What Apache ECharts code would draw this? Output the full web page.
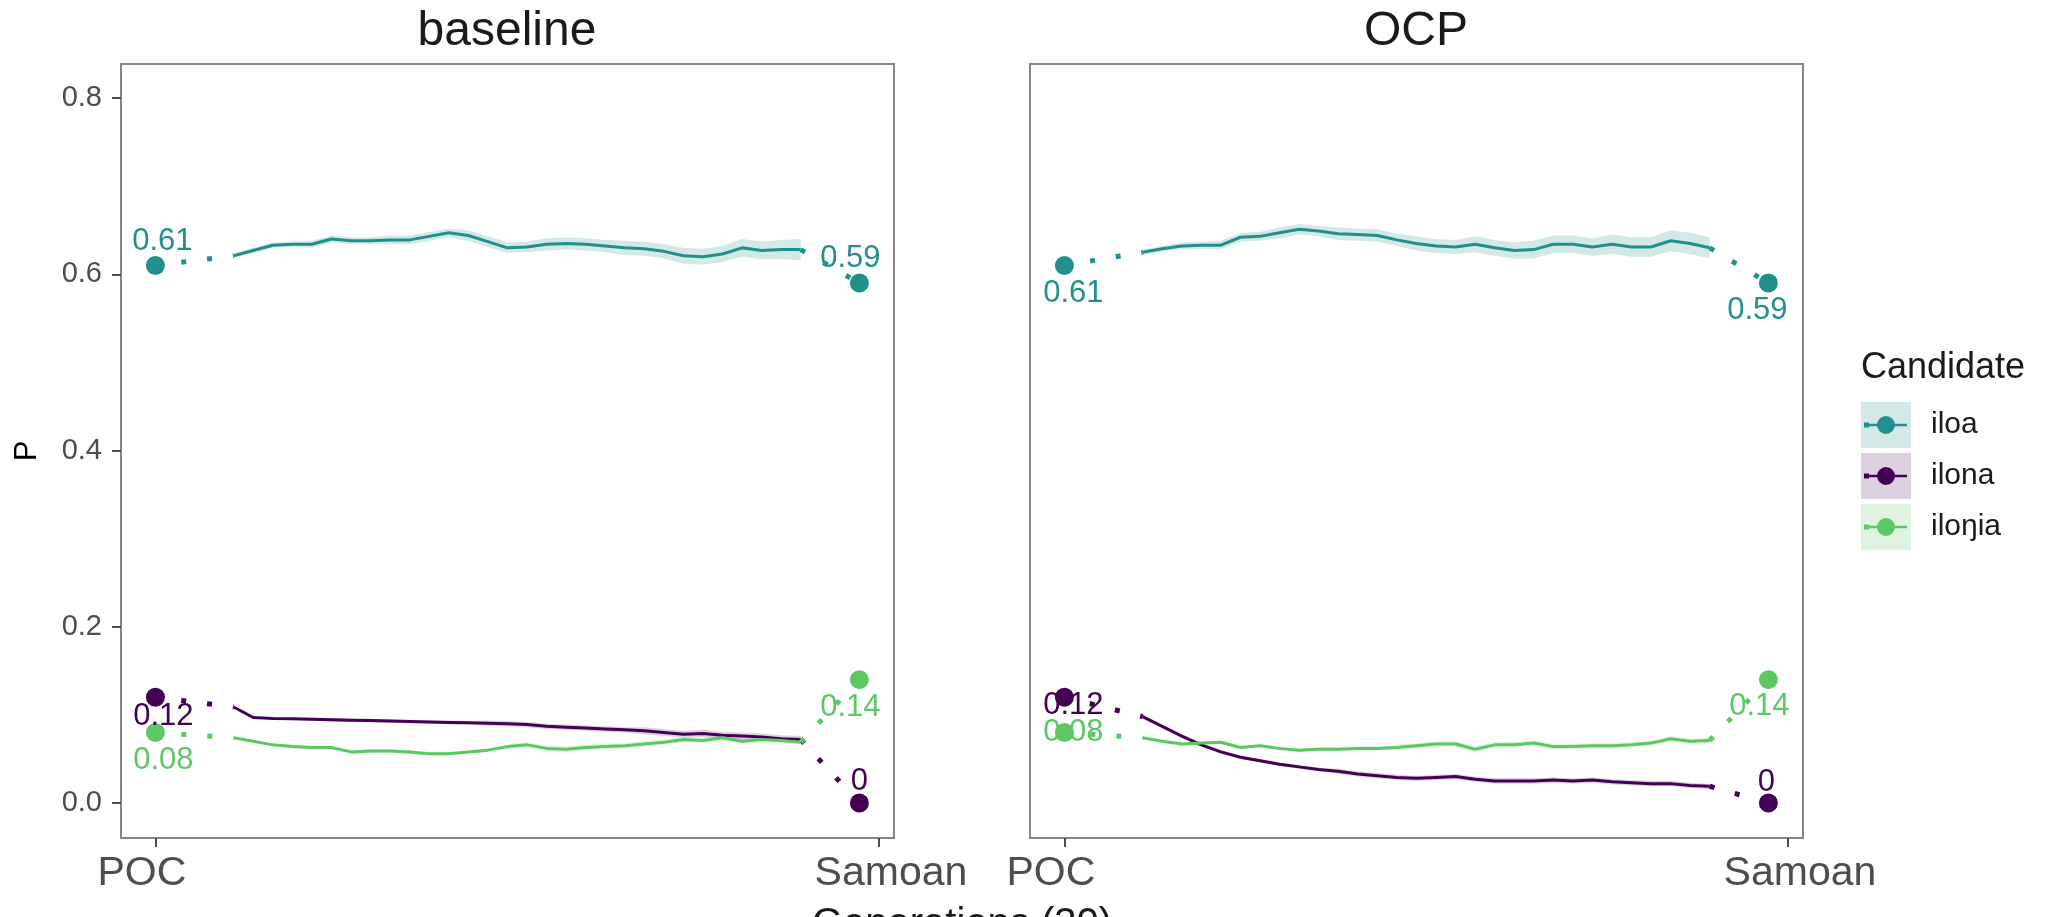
<!DOCTYPE html>
<html>
<head>
<meta charset="utf-8">
<script src="https://cdn.jsdelivr.net/npm/echarts@6/dist/echarts.min.js"></script>
<style>
  html, body { margin: 0; padding: 0; background: #fff; }
  #chart { width: 2046px; height: 917px; }
</style>
</head>
<body>
<div id="chart"></div>
<script>
// categories and values
const candidates = ['iloa', 'ilona', 'iloŋia'];
const panels = ['baseline', 'OCP'];
const xLabels = ['POC', 'Samoan'];
const yTicks = [0, 0.2, 0.4, 0.6, 0.8];
const generations = [1, 2, 3, 4, 5, 6, 7, 8, 9, 10, 11, 12, 13, 14, 15, 16, 17, 18, 19, 20, 21, 22, 23, 24, 25, 26, 27, 28, 29, 30];

// observed endpoints (same in both panels)
const pocP = [0.61, 0.12, 0.08];
const samoanP = [0.59, 0, 0.14];

// simulated mean P per generation
const baselineIloa = [0.621, 0.627, 0.633, 0.634, 0.634, 0.640, 0.638, 0.638, 0.639, 0.639, 0.643, 0.647, 0.644, 0.637, 0.630, 0.631, 0.634, 0.635, 0.634, 0.632, 0.630, 0.629, 0.626, 0.621, 0.620, 0.623, 0.630, 0.627, 0.628, 0.628];
const baselineIlona = [0.109, 0.097, 0.096, 0.0955, 0.095, 0.0945, 0.094, 0.0935, 0.093, 0.0925, 0.092, 0.0915, 0.091, 0.0905, 0.090, 0.089, 0.087, 0.086, 0.085, 0.084, 0.083, 0.082, 0.080, 0.078, 0.079, 0.077, 0.076, 0.075, 0.073, 0.072];
const baselineIlonia = [0.074, 0.070, 0.066, 0.064, 0.063, 0.063, 0.058, 0.059, 0.059, 0.058, 0.056, 0.056, 0.058, 0.060, 0.064, 0.066, 0.062, 0.061, 0.063, 0.064, 0.065, 0.067, 0.069, 0.072, 0.071, 0.074, 0.070, 0.072, 0.071, 0.069];
const ocpIloa = [0.625, 0.629, 0.632, 0.633, 0.633, 0.642, 0.643, 0.647, 0.651, 0.649, 0.646, 0.645, 0.644, 0.639, 0.635, 0.632, 0.631, 0.634, 0.630, 0.627, 0.628, 0.634, 0.634, 0.631, 0.634, 0.631, 0.631, 0.638, 0.635, 0.630];
const ocpIlona = [0.098, 0.087, 0.076, 0.066, 0.058, 0.052, 0.048, 0.044, 0.041, 0.038, 0.036, 0.033, 0.031, 0.029, 0.028, 0.029, 0.030, 0.027, 0.025, 0.025, 0.025, 0.026, 0.025, 0.026, 0.024, 0.023, 0.022, 0.022, 0.020, 0.019];
const ocpIlonia = [0.074, 0.070, 0.067, 0.068, 0.069, 0.063, 0.065, 0.062, 0.060, 0.061, 0.061, 0.062, 0.062, 0.063, 0.065, 0.067, 0.067, 0.061, 0.066, 0.066, 0.068, 0.064, 0.064, 0.065, 0.065, 0.066, 0.068, 0.073, 0.070, 0.071];

// ribbon half-widths
const baselineIloaSe = [0.002, 0.003, 0.003, 0.003, 0.004, 0.004, 0.004, 0.004, 0.005, 0.005, 0.005, 0.005, 0.006, 0.006, 0.006, 0.006, 0.007, 0.007, 0.007, 0.007, 0.008, 0.008, 0.008, 0.009, 0.009, 0.009, 0.010, 0.010, 0.011, 0.012];
const baselineIlonaSe = [0.001, 0.001, 0.001, 0.001, 0.002, 0.002, 0.002, 0.002, 0.002, 0.002, 0.002, 0.002, 0.002, 0.003, 0.003, 0.003, 0.003, 0.003, 0.003, 0.003, 0.003, 0.004, 0.004, 0.004, 0.004, 0.004, 0.004, 0.004, 0.004, 0.004];
const baselineIloniaSe = [0.001, 0.001, 0.001, 0.002, 0.002, 0.002, 0.002, 0.002, 0.002, 0.002, 0.002, 0.002, 0.002, 0.002, 0.002, 0.003, 0.003, 0.003, 0.003, 0.003, 0.003, 0.003, 0.003, 0.003, 0.003, 0.003, 0.003, 0.003, 0.003, 0.003];
const ocpIloaSe = [0.003, 0.003, 0.004, 0.004, 0.005, 0.005, 0.005, 0.006, 0.006, 0.006, 0.007, 0.007, 0.007, 0.007, 0.008, 0.008, 0.008, 0.009, 0.009, 0.009, 0.010, 0.010, 0.010, 0.010, 0.011, 0.011, 0.011, 0.012, 0.012, 0.012];
const ocpIlonaSe = [0.002, 0.002, 0.002, 0.002, 0.002, 0.002, 0.002, 0.002, 0.002, 0.002, 0.003, 0.003, 0.003, 0.003, 0.003, 0.003, 0.003, 0.003, 0.003, 0.003, 0.003, 0.003, 0.003, 0.003, 0.003, 0.003, 0.003, 0.003, 0.003, 0.003];
const ocpIloniaSe = [0.001, 0.002, 0.002, 0.002, 0.002, 0.002, 0.002, 0.002, 0.002, 0.002, 0.002, 0.002, 0.002, 0.003, 0.003, 0.003, 0.003, 0.003, 0.003, 0.003, 0.003, 0.003, 0.003, 0.003, 0.003, 0.003, 0.003, 0.003, 0.003, 0.003];

// x positions on the numeric axis
const POC_X = 0;
const GEN_SHIFT = 3;      // generation g drawn at g + 3
const SAMOAN_X = 36;      // observed Samoan point
const SAMOAN_TICK = 37;   // Samoan axis label

const colors = ['#21908C', '#440154', '#5DC863'];
const ribbonColors = ['rgba(33,144,140,0.2)', 'rgba(68,1,84,0.18)', 'rgba(93,200,99,0.2)'];
const FONT = '"Liberation Sans", Arial, Helvetica, sans-serif';

// where the repelled text labels sit relative to their points [POC, Samoan]
const labelOffsets = [
    [[[7, -24], [-9, -25]], [[8, 19], [0, -22]], [[8, 28], [-9, 28]]],
    [[[9, 28], [-11, 27]], [[9, 8], [-2, -21]], [[9, 0], [-9, 27]]]
];

const glyph = 'path://M0 6.5h5v5h-5z M5 7.8h9v2.4h-9z M30 7.8h13v2.4h-13z M31 9a9 9 0 1 1 -18 0a9 9 0 1 1 18 0z';

function ribbonSeries(p, vals, se, color) {
    return {
        type: 'custom', xAxisIndex: p, yAxisIndex: p, silent: true, z: 1,
        data: [[generations[0] + GEN_SHIFT, vals[0]]],
        renderItem: (params, api) => {
            const upper = generations.map((g, i) => api.coord([g + GEN_SHIFT, vals[i] + se[i]]));
            const lower = generations.map((g, i) => api.coord([g + GEN_SHIFT, vals[i] - se[i]])).reverse();
            return { type: 'polygon', shape: { points: upper.concat(lower) }, style: { fill: color } };
        }
    };
}

function panelSeries(p, lines, ses) {
    const out = [];
    // ribbons first so lines sit on top
    candidates.forEach((name, c) => out.push(ribbonSeries(p, lines[c], ses[c], ribbonColors[c])));

    candidates.forEach((name, c) => {
        const vals = lines[c];
        out.push({
            name: name, type: 'line', xAxisIndex: p, yAxisIndex: p,
            color: colors[c], symbol: 'none', z: 3,
            lineStyle: { width: 3, color: colors[c] },
            data: generations.map((g, i) => [g + GEN_SHIFT, vals[i]])
        });
        // dotted links from the observed points to the simulation
        out.push({
            type: 'line', xAxisIndex: p, yAxisIndex: p, symbol: 'none', z: 3,
            lineStyle: { width: 5, color: colors[c], type: [5, 21], cap: 'butt' },
            data: [[POC_X, pocP[c]], [generations[0] + GEN_SHIFT, vals[0]]]
        });
        out.push({
            type: 'line', xAxisIndex: p, yAxisIndex: p, symbol: 'none', z: 3,
            lineStyle: { width: 5, color: colors[c], type: [5, 21], cap: 'butt' },
            data: [[generations[generations.length - 1] + GEN_SHIFT, vals[vals.length - 1]], [SAMOAN_X, samoanP[c]]]
        });
        out.push({
            type: 'scatter', xAxisIndex: p, yAxisIndex: p, z: 4,
            symbolSize: 19, itemStyle: { color: colors[c], opacity: 1 },
            label: {
                show: true, position: 'inside', color: colors[c],
                fontSize: 31, fontFamily: FONT,
                formatter: (prm) => String(prm.value[1])
            },
            data: [
                { value: [POC_X, pocP[c]], label: { offset: labelOffsets[p][c][0] } },
                { value: [SAMOAN_X, samoanP[c]], label: { offset: labelOffsets[p][c][1] } }
            ]
        });
    });
    return out;
}

const grids = [
    { left: 121, top: 64, width: 773, height: 774 },
    { left: 1030, top: 64, width: 773, height: 774 }
];

function xAxisFor(p) {
    return {
        type: 'value', gridIndex: p, min: -1.76, max: 37.77,
        axisLine: { show: false, onZero: false },
        splitLine: { show: false },
        axisTick: { customValues: [POC_X, SAMOAN_TICK], length: 9, lineStyle: { color: '#4d4d4d', width: 2 } },
        axisLabel: {
            customValues: [POC_X, SAMOAN_TICK], margin: 15,
            formatter: (v) => v === POC_X ? '{a|' + xLabels[0] + '}' : '{b|' + xLabels[1] + '}',
            rich: {
                a: { fontSize: 41, color: '#4d4d4d', fontFamily: FONT, padding: [0, 27, 0, 0] },
                b: { fontSize: 41, color: '#4d4d4d', fontFamily: FONT, padding: [0, 0, 0, 24] }
            }
        }
    };
}

function yAxisFor(p) {
    const ax = {
        type: 'value', gridIndex: p, min: -0.0397, max: 0.8386,
        axisLine: { show: false, onZero: false },
        splitLine: { show: false },
        axisTick: { show: p === 0, customValues: yTicks, length: 9, lineStyle: { color: '#4d4d4d', width: 2 } },
        axisLabel: {
            show: p === 0, customValues: yTicks, margin: 19,
            fontSize: 29, color: '#4d4d4d', fontFamily: FONT, padding: [6, 0, 0, 0],
            formatter: (v) => v.toFixed(1)
        }
    };
    if (p === 0) {
        ax.name = 'P';
        ax.nameLocation = 'middle';
        ax.nameRotate = 90;
        ax.nameGap = 78;
        ax.nameTextStyle = { fontSize: 31, color: '#000', fontFamily: FONT };
    }
    return ax;
}

const chart = echarts.init(document.getElementById('chart'), null, { renderer: 'canvas' });

const titleStyle = (size) => ({ fontSize: size, fontWeight: 'normal', color: '#1a1a1a', fontFamily: FONT });

chart.setOption({
    animation: false,
    backgroundColor: '#fff',
    textStyle: { fontFamily: FONT },
    title: [
        { text: panels[0], left: 507, top: 8, padding: 0, textAlign: 'center', textStyle: titleStyle(48) },
        { text: panels[1], left: 1416, top: 8, padding: 0, textAlign: 'center', textStyle: titleStyle(48) },
        { text: 'Candidate', left: 1861, top: 350, padding: 0, textStyle: titleStyle(36) }
    ],
    graphic: [
        {
            type: 'text', x: 962, y: 905, silent: true,
            style: { text: 'Generations (30)', fontSize: 40, fontFamily: FONT, fill: '#1a1a1a', align: 'center', verticalAlign: 'top' }
        }
    ],
    legend: [
        {
            orient: 'vertical', left: 1861, top: 402, padding: 0,
            itemWidth: 50, itemHeight: 46, itemGap: 5, selectedMode: false, z: 4,
            itemStyle: { borderWidth: 0 },
            textStyle: { fontSize: 30, color: '#1a1a1a', fontFamily: FONT, padding: [0, 0, 0, 15] },
            data: candidates.map((n, i) => ({ name: n, icon: 'rect', itemStyle: { color: ribbonColors[i], borderWidth: 0 } }))
        },
        {
            orient: 'vertical', left: 1864, top: 416, padding: 0,
            itemWidth: 43, itemHeight: 18, itemGap: 33, selectedMode: false, z: 5,
            itemStyle: { borderWidth: 0 },
            formatter: () => '',
            data: candidates.map((n) => ({ name: n, icon: glyph }))
        }
    ],
    grid: grids.map((g) => Object.assign({ show: true, borderColor: '#858585', borderWidth: 2, backgroundColor: 'transparent' }, g)),
    xAxis: [xAxisFor(0), xAxisFor(1)],
    yAxis: [yAxisFor(0), yAxisFor(1)],
    series: [].concat(
        panelSeries(0, [baselineIloa, baselineIlona, baselineIlonia], [baselineIloaSe, baselineIlonaSe, baselineIloniaSe]),
        panelSeries(1, [ocpIloa, ocpIlona, ocpIlonia], [ocpIloaSe, ocpIlonaSe, ocpIloniaSe])
    )
});
</script>
</body>
</html>
